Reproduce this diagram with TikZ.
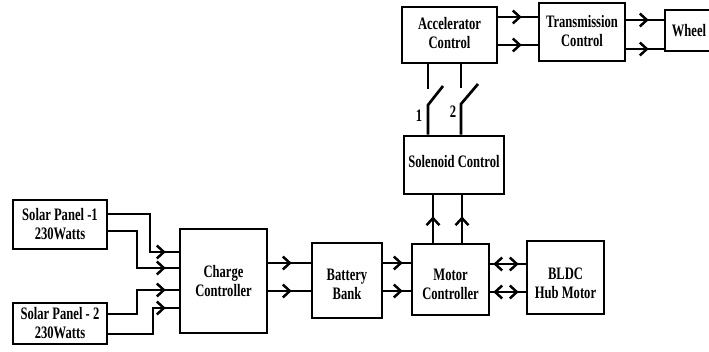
\documentclass[tikz,border=0pt]{standalone}
\usepackage{fontspec}
\setmainfont{Liberation Serif}[FakeStretch=0.72]
\usetikzlibrary{arrows.meta,decorations.markings}
\tikzset{
  box/.style={draw, line width=2.7pt, inner sep=0pt},
  lbl/.style={align=center, inner sep=0pt, font=\bfseries\fontsize{17.5}{19}\selectfont},
  wire/.style={line width=2.7pt},
  barb/.tip={Straight Barb[length=7pt,width=13pt,line width=2.5pt]},
  arr/.style={wire, postaction={decorate},
    decoration={markings, mark=at position -#1 with {\arrow{barb}}}},
  darr/.style 2 args={wire, postaction={decorate},
    decoration={markings, mark=at position #1 with {\arrowreversed{barb}},
      mark=at position -#2 with {\arrow{barb}}}},
}
\begin{document}
\begin{tikzpicture}[x=1pt,y=-1pt]
\useasboundingbox (0,0) rectangle (709,351);
% boxes
\node[box, minimum width=94pt, minimum height=49pt, label={[lbl]center:Solar Panel -1\\230Watts}] (sp1) at (60,224.5) {};
\node[box, minimum width=94pt, minimum height=41pt, label={[lbl]center:Solar Panel - 2\\230Watts}] (sp2) at (60,323.5) {};
\node[box, minimum width=87pt, minimum height=104pt, label={[lbl]center:Charge\\Controller}] (cc) at (223.5,281) {};
\node[box, minimum width=70pt, minimum height=75pt, label={[lbl,yshift=-4pt]center:Battery\\Bank}] (bb) at (347,280.5) {};
\node[box, minimum width=77pt, minimum height=71pt, label={[lbl,yshift=-5pt]center:Motor\\Controller}] (mc) at (450.5,279.5) {};
\node[box, minimum width=77pt, minimum height=73pt, label={[lbl,yshift=-6pt]center:BLDC\\Hub Motor}] (bldc) at (565.5,277.5) {};
\node[box, minimum width=100pt, minimum height=58pt, label={[lbl,yshift=3pt]center:Solenoid Control}] (sol) at (454,165) {};
\node[box, minimum width=95pt, minimum height=56pt, label={[lbl,yshift=2pt]center:Accelerator\\Control}] (acc) at (449.5,35) {};
\node[box, minimum width=86pt, minimum height=58pt, label={[lbl,yshift=1pt]center:Transmission\\Control}] (tr) at (582,32) {};
\node[box, minimum width=53pt, minimum height=41pt, label={[lbl,xshift=-2.5pt]center:Wheel}] (wh) at (691.5,30.5) {};
% solar panels to charge controller
\draw[arr=13pt] (sp1.east |- 0,214) -| (150,252) -- (cc.west |- 0,252);
\draw[arr=13pt] (sp1.east |- 0,231) -| (137,268) -- (cc.west |- 0,268);
\draw[arr=13pt] (sp2.east |- 0,314) -| (137,290) -- (cc.west |- 0,290);
\draw[arr=13pt] (sp2.east |- 0,334) -| (153,308) -- (cc.west |- 0,308);
% charge controller to battery
\draw[arr=19pt] (cc.east |- 0,263) -- (bb.west |- 0,263);
\draw[arr=19pt] (cc.east |- 0,291) -- (bb.west |- 0,291);
% battery to motor controller
\draw[arr=8pt] (bb.east |- 0,263) -- (mc.west |- 0,263);
\draw[arr=8pt] (bb.east |- 0,291) -- (mc.west |- 0,291);
% motor controller <-> BLDC
\draw[darr={3pt}{7pt}] (mc.east |- 0,264) -- (bldc.west |- 0,264);
\draw[darr={3pt}{7pt}] (mc.east |- 0,292) -- (bldc.west |- 0,292);
% motor controller to solenoid
\draw[arr=21pt] (mc.north -| 433,0) -- (sol.south -| 433,0);
\draw[arr=21pt] (mc.north -| 462,0) -- (sol.south -| 462,0);
% switches
\coordinate (s1a) at (428,89);
\coordinate (s1b) at (428,105);
\coordinate (s1c) at (443,86);
\coordinate (s2a) at (461,88);
\coordinate (s2b) at (461,104);
\coordinate (s2c) at (478,84);
\draw[wire] (acc.south -| s1a) -- (s1a);
\draw[wire] (acc.south -| s2a) -- (s2a);
\draw[wire] (sol.north -| s1b) -- (s1b) -- (s1c);
\draw[wire] (sol.north -| s2b) -- (s2b) -- (s2c);
\node[lbl] (n1) at (419,116) {1};
\node[lbl] (n2) at (453,112) {2};
% accelerator to transmission
\draw[arr=16pt] (acc.east |- 0,17) -- (tr.west |- 0,17);
\draw[arr=16pt] (acc.east |- 0,45) -- (tr.west |- 0,45);
% transmission to wheel
\draw[arr=15pt] (tr.east |- 0,20) -- (wh.west |- 0,20);
\draw[arr=15pt] (tr.east |- 0,49) -- (wh.west |- 0,49);
\end{tikzpicture}
\end{document}
